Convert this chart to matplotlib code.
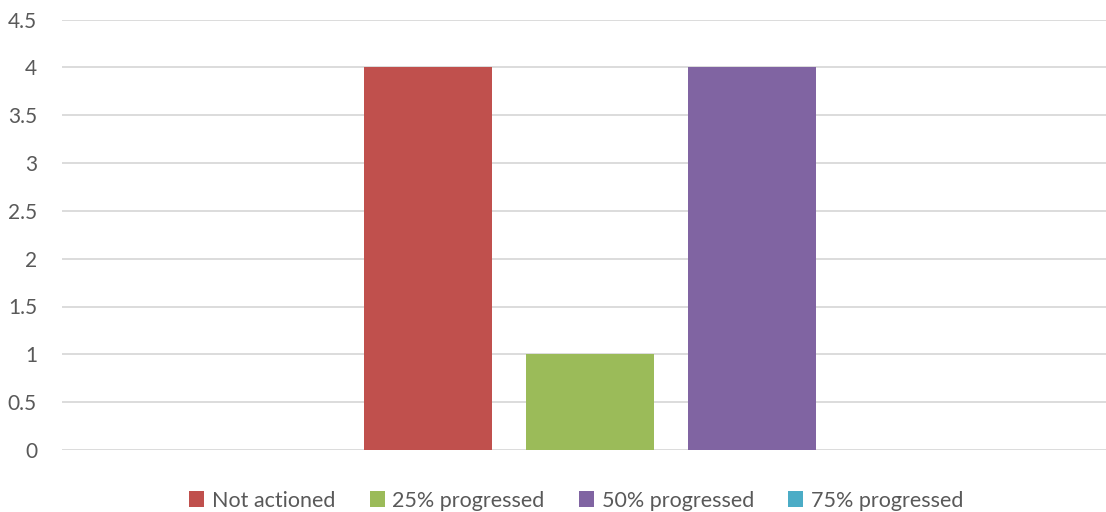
import numpy as np
import matplotlib
matplotlib.use("Agg")
import matplotlib.pyplot as plt

# series of the one clustered category
series = ['Not actioned', '25% progressed', '50% progressed', '75% progressed']
values = [4, 1, 4, 0]
colours = ['#C0504D', '#9BBB59', '#8064A2', '#4BACC6']
yticks = [0, 0.5, 1, 1.5, 2, 2.5, 3, 3.5, 4, 4.5]
ytick_labels = ['0', '0.5', '1', '1.5', '2', '2.5', '3', '3.5', '4', '4.5']

plt.rcParams['font.family'] = ['Lato', 'DejaVu Sans']

fig = plt.figure(figsize=(11.06, 5.12), dpi=100)
ax = fig.add_axes([62 / 1106, 62 / 512, 1044 / 1106, (450 - 19.5) / 512])

x = np.arange(len(series))
for i in range(len(series)):
    ax.bar(x[i], values[i], width=0.79, color=colours[i], label=series[i], zorder=3)

ax.set_xlim(-2.259, 4.185)
ax.set_ylim(0, 4.5)
ax.set_yticks(yticks)
ax.set_yticklabels(ytick_labels)
ax.set_xticks([])
ax.grid(axis='y', color='#d9d9d9', linewidth=1.3, zorder=0)
ax.tick_params(axis='y', length=0, pad=18, labelsize=15, labelcolor='#595959')
for s in ax.spines.values():
    s.set_visible(False)

fig.legend(loc='lower center', bbox_to_anchor=(0.521, -0.035), ncol=4, frameon=False,
           fontsize=15.5, labelcolor='#595959', handlelength=0.7, handleheight=0.7,
           handletextpad=0.35, columnspacing=1.6)

fig.savefig('out.png', dpi=100)
